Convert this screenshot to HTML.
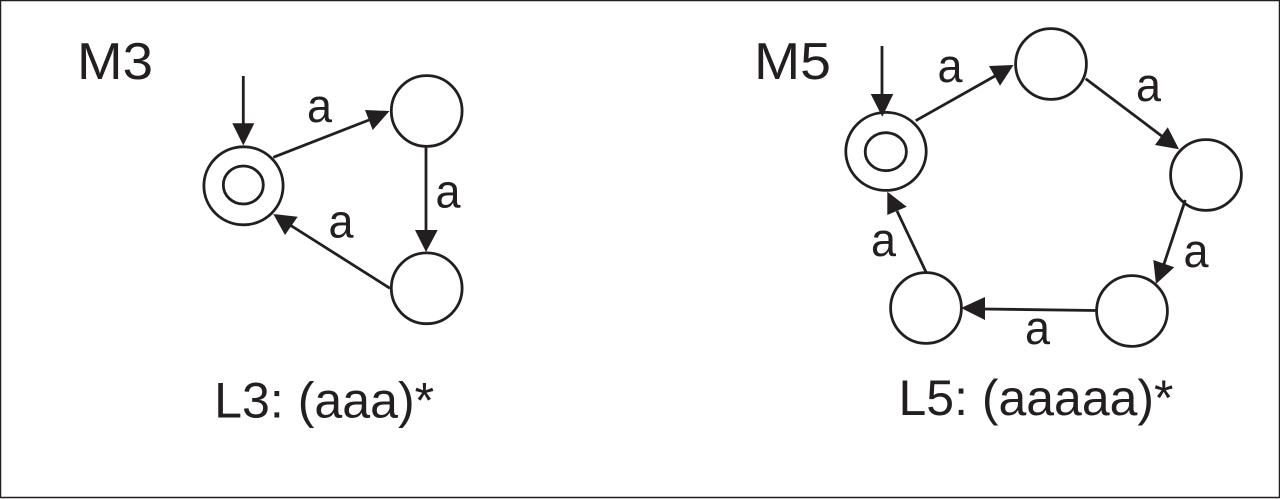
<!DOCTYPE html>
<html>
<head>
<meta charset="utf-8">
<style>
html,body{margin:0;padding:0;background:#fff;width:1280px;height:499px;overflow:hidden}
svg{display:block}
text{font-family:"Liberation Sans",sans-serif;fill:#231f20}
</style>
</head>
<body>
<svg width="1280" height="499" viewBox="0 0 1280 499" xmlns="http://www.w3.org/2000/svg">
<rect x="0.5" y="0.5" width="1279" height="497" fill="#fff" stroke="#231f20" stroke-width="1.5"/>
<g fill="none" stroke="#231f20" stroke-width="2.8">
<ellipse cx="243.5" cy="185.8" rx="39.6" ry="39"/>
<ellipse cx="243.3" cy="185" rx="20" ry="19"/>
<circle cx="426.7" cy="111" r="35.4"/>
<circle cx="426.7" cy="288.3" r="35.4"/>
<ellipse cx="886" cy="151.4" rx="40.2" ry="39"/>
<ellipse cx="885.8" cy="151.7" rx="20.6" ry="19"/>
<circle cx="1051" cy="64" r="35.4"/>
<circle cx="1206" cy="175" r="35.4"/>
<circle cx="1132" cy="311" r="35.4"/>
<circle cx="926" cy="308" r="35.4"/>
<path d="M243.3 76V125M273.3 157.3L369 120M426 147V232M390 288.3L290 225M882 46V96M915.7 120.7L995 76M1085.7 78.7L1163 137M1185.3 200L1164 264M1096 310.5L984 309M926 272L897 211"/>
</g>
<g fill="#231f20">
<polygon points="243.3,145.5 232.3,123.3 254.3,123.3"/>
<polygon points="389.5,111 365,110 372.7,130"/>
<polygon points="426,252 415,230 437.7,230"/>
<polygon points="273.3,214 297.7,216.7 285,235"/>
<polygon points="882.3,116.7 870.7,94 893.3,94"/>
<polygon points="1013.5,65 989,66 1000,85.7"/>
<polygon points="1179,149.3 1167.7,127.3 1155,145"/>
<polygon points="1156,284 1153.3,260 1174.3,267.3"/>
<polygon points="961,308 985,297 985,320"/>
<polygon points="887.3,191.7 906.7,206.7 887.3,215"/>
</g>
<g font-size="47">
<text x="77" y="79" font-size="52" textLength="76" lengthAdjust="spacingAndGlyphs">M3</text>
<text x="754" y="79" font-size="52" textLength="77" lengthAdjust="spacingAndGlyphs">M5</text>
<text x="307" y="122" textLength="25" lengthAdjust="spacingAndGlyphs">a</text>
<text x="435.5" y="207.5" textLength="25" lengthAdjust="spacingAndGlyphs">a</text>
<text x="328.5" y="237.5" textLength="25" lengthAdjust="spacingAndGlyphs">a</text>
<text x="937.5" y="82" textLength="25" lengthAdjust="spacingAndGlyphs">a</text>
<text x="1136" y="101" textLength="25" lengthAdjust="spacingAndGlyphs">a</text>
<text x="1183.5" y="267" textLength="25" lengthAdjust="spacingAndGlyphs">a</text>
<text x="1025" y="344" textLength="25" lengthAdjust="spacingAndGlyphs">a</text>
<text x="871" y="256" textLength="25" lengthAdjust="spacingAndGlyphs">a</text>
<text x="214.2" y="417.5" font-size="50" textLength="220" lengthAdjust="spacingAndGlyphs">L3: (aaa)*</text>
<text x="898.5" y="415" font-size="50" textLength="275" lengthAdjust="spacingAndGlyphs">L5: (aaaaa)*</text>
</g>
</svg>
</body>
</html>
